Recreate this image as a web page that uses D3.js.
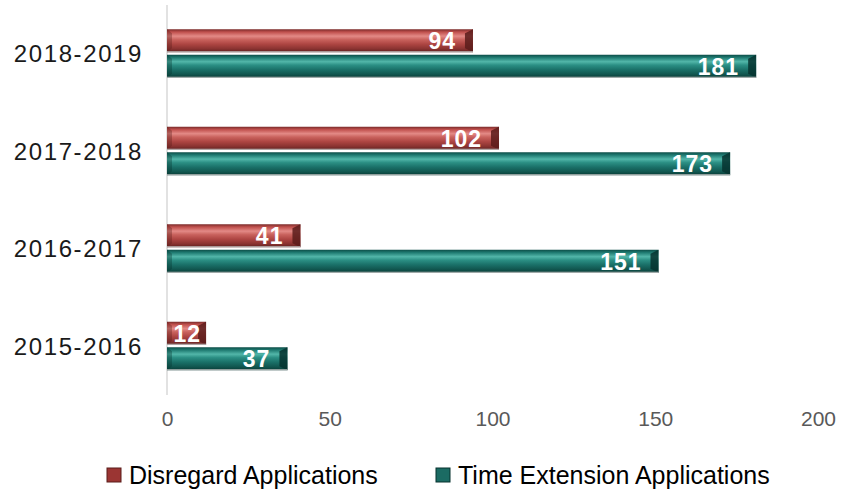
<!DOCTYPE html>
<html>
<head>
<meta charset="utf-8">
<script src="https://cdn.jsdelivr.net/npm/d3@7"></script>
<style>
  body { margin: 0; background: #fff; }
  svg { display: block; font-family: "Liberation Sans", Arial, sans-serif; }
</style>
</head>
<body>
<svg id="chart" width="842" height="493"></svg>
<script>
const years = ['2018-2019', '2017-2018', '2016-2017', '2015-2016']
const disregard = [94, 102, 41, 12]
const timeExtension = [181, 173, 151, 37]
const xTicks = [0, 50, 100, 150, 200]
const seriesNames = ['Disregard Applications', 'Time Extension Applications']

const svg = d3.select('#chart')
const margin = { left: 167, right: 24, top: 5, bottom: 98 }
const width = 842
const height = 493

const x = d3.scaleLinear().domain([0, 200]).range([margin.left, width - margin.right])
const y = d3.scaleBand().domain(years).range([margin.top, height - margin.bottom]).paddingInner(0).paddingOuter(0)
const barH = 23

// gradients for the glossy bars
const defs = svg.append('defs')
const palettes = [
  { id: 'grad-red', stops: ['#7a2b2a', '#c0504d', '#e38a86', '#c9625d', '#ad4542', '#8a3331', '#5e201f'], end: '#5a1c1b', swatch: '#9b3533' },
  { id: 'grad-teal', stops: ['#0c4d47', '#1f7a71', '#52b6a9', '#2b8f84', '#1a7068', '#11564f', '#083a35'], end: '#06332f', swatch: '#1b6b63' }
]
palettes.forEach(p => {
  const g = defs.append('linearGradient').attr('id', p.id).attr('x1', 0).attr('x2', 0).attr('y1', 0).attr('y2', 1)
  const offs = [0, 0.12, 0.3, 0.45, 0.65, 0.85, 1]
  p.stops.forEach((c, i) => g.append('stop').attr('offset', offs[i]).attr('stop-color', c))
})

// vertical axis line
svg.append('line')
  .attr('x1', x(0)).attr('x2', x(0))
  .attr('y1', margin.top).attr('y2', height - margin.bottom)
  .attr('stroke', '#d9d9d9').attr('stroke-width', 1.5)

const rows = years.map((yr, i) => ({ yr, values: [disregard[i], timeExtension[i]] }))

const groups = svg.selectAll('g.row')
  .data(rows)
  .enter()
  .append('g')
  .attr('class', 'row')

groups.each(function (d) {
  const g = d3.select(this)
  const center = y(d.yr) + y.bandwidth() / 2
  d.values.forEach((v, s) => {
    const top = s === 0 ? center - barH - 1.5 : center + 1
    const x0 = x(0)
    const x1 = x(v)
    const p = palettes[s]
    g.append('rect')
      .attr('x', x0).attr('y', top)
      .attr('width', x1 - x0).attr('height', barH)
      .attr('fill', `url(#${p.id})`)
    // bevelled right end
    const bev = Math.min(8, (x1 - x0) / 3)
    g.append('path')
      .attr('d', `M${x1 - bev},${top + 4} L${x1},${top} L${x1},${top + barH} L${x1 - bev},${top + barH - 4} Z`)
      .attr('fill', p.end).attr('opacity', 0.85)
    // bevelled left end
    g.append('path')
      .attr('d', `M${x0},${top} L${x0 + 5},${top + 4} L${x0 + 5},${top + barH - 4} L${x0},${top + barH} Z`)
      .attr('fill', p.end).attr('opacity', 0.35)
    // bottom rim
    g.append('rect')
      .attr('x', x0).attr('y', top + barH - 1)
      .attr('width', x1 - x0).attr('height', 1)
      .attr('fill', '#bfbfbf')
    g.append('text')
      .attr('x', x1 - (v < 20 ? 5 : 17))
      .attr('y', top + barH / 2 + 8.5)
      .attr('text-anchor', 'end')
      .attr('fill', '#fff')
      .attr('font-size', 23)
      .attr('font-weight', 'bold')
      .attr('letter-spacing', 1)
      .text(v)
  })
})

// category labels
svg.selectAll('text.cat')
  .data(years)
  .enter()
  .append('text')
  .attr('class', 'cat')
  .attr('x', 143)
  .attr('y', d => y(d) + y.bandwidth() / 2 + 8.5)
  .attr('text-anchor', 'end')
  .attr('font-size', 24)
  .attr('letter-spacing', 1.6)
  .attr('fill', '#1a1a1a')
  .text(d => d)

// x tick labels
const xAxis = d3.axisBottom(x).tickValues(xTicks).tickSize(0).tickPadding(0)
const ax = svg.append('g')
  .attr('transform', `translate(0,${height - margin.bottom + 16})`)
  .call(xAxis)
ax.select('.domain').remove()
ax.selectAll('text')
  .attr('font-size', 21)
  .attr('fill', '#595959')
  .attr('font-family', '"Liberation Sans", Arial, sans-serif')

// legend
const legend = svg.append('g').attr('transform', 'translate(0,475)')
const legendX = [107, 436]
seriesNames.forEach((name, i) => {
  legend.append('rect')
    .attr('x', legendX[i]).attr('y', -7)
    .attr('width', 14).attr('height', 14)
    .attr('fill', palettes[i].swatch)
    .attr('stroke', palettes[i].end).attr('stroke-width', 1)
  legend.append('text')
    .attr('x', legendX[i] + 22).attr('y', 9)
    .attr('font-size', 25)
    .attr('fill', '#000')
    .text(name)
})
</script>
</body>
</html>
